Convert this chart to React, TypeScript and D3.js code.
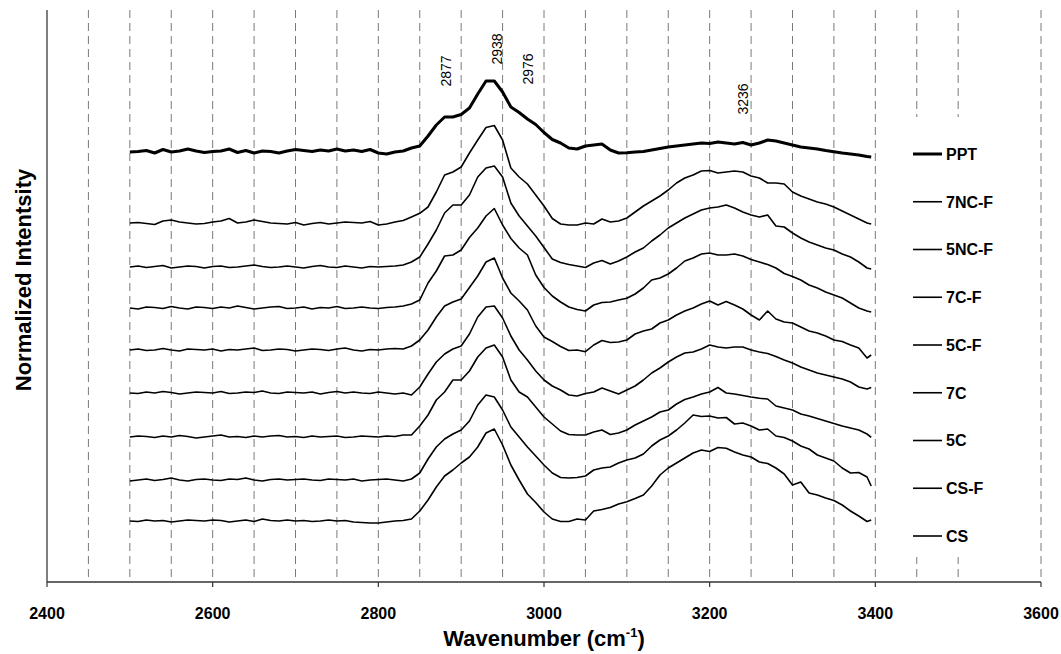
import React from "react";
import * as d3 from "d3";

// x-grid of sampled wavenumbers (cm-1), last sample at the spectrum end
const wavenumbers: number[] = [...d3.range(2500, 3391, 10), 3395];

const seriesNames = ["PPT", "7NC-F", "5NC-F", "7C-F", "5C-F", "7C", "5C", "CS-F", "CS"];
// vertical stacking offsets (a.u.)
const seriesOffsets = [430, 359, 315, 274, 232, 189, 145, 102, 61];

const ppt = [0,0.5,1.5,-1,2.5,0,1,3,1,-0.5,
 0.5,1,3,-0.5,1.5,-1,1,0.5,-1,1,
 2.5,1.5,0.5,2,1,3,1,2,0.5,2.5,
 -1,-2,0,1,4,6,16,27,35,35,
 37.5,44,58,71,71,60,45,39.5,33,27.5,
 19.5,12.5,9,4,3,6,7,8,2,-1,
 -0.7,0,0.5,2,3.5,5,6,7,8,9,
 8.5,10,9,8,9.5,7,9,12,11,9,
 7,5,4,3,1.5,0.3,-1,-2,-3,-4.5,-5];

const nc7f = [0,0.5,-0.5,-1.5,2,3,1,0,-1,-0.5,
 1,2,4.5,0,1,3,1.5,0,-0.5,-1,
 0.5,-2,-0.5,0.5,-1,0,1,0.5,0,1.5,
 -2,-1,1,2.5,6,9.7,16,31,48,51,
 56,70,83,95.5,97.5,83,55,46,39,28,
 17,4.5,-1,-2,-2,0,-1,4,1,2,
 5,11,17,22,27,33,40,45,48,52,
 52.5,50,51,52,51,47,45,40,40,39,
 31,27,24,21,19,16,12,8,4,0,-1];

const nc5f = [0,1,-0.5,0.5,1.5,-1,0,1,0.5,-1,
 0.5,1,-0.5,0,1,2,0.5,-0.5,0,1,
 0,-1,0.5,1.5,0,-0.5,1,0,-1,0.5,
 0,0.5,1,2,5,10,23,37,54,62,
 62,72,90,99,101,90,64,51,41,31,
 19.5,8,4.5,2.5,1,-0.5,4,6.5,3,6,
 10,15,19,26,32,39,44,49,53,57,
 59,60,62,59,55,52,50,52,41,40,
 34,29,25,22,19,17,13,10,5,-1,-2];

const c7f = [0,-1,1,0.5,-0.5,1.5,0,-1,1,0.5,
 -0.5,1,0,2,0.5,-1,0,1,1.5,-0.5,
 0,1,-1,0.5,0,1.5,-0.5,0,1,0,
 -0.5,0.5,1,2,4,8,25,37,52,53,
 58,70.5,80,92,99.5,83,69.5,60,53,33,
 20.5,12,6,1,-1.5,-3,3,5.5,6,8,
 9.7,14,20,28,30,34,40,47,50,54,
 55,53,53,54,52,48.5,46,43.5,40,34.5,
 31.5,28,23,20,16,13,10,5,0,-3,-4];

const c5f = [0,1,-0.5,0,1.5,0,-1,1,0.5,0,
 1,-1,0.5,0,1,2,-0.5,0,1,0.5,
 -1,0,1,0.5,-0.5,1,2,0,-1,0.5,
 0,1,1.5,1,4,10,20,33,44,48,
 51,62.5,74,88,92,72,57,49,40,24,
 13,8.5,3.5,-0.5,0,-1.7,5,9.5,7.5,8,
 10,16,19,21,27,30,35,39,42,46,
 49,45,48.5,45,41,35,30,39,31,28,
 27,23,19,17,14,10,8.5,5,2,-8,-5];

const c7 = [0,-0.5,1,0,1.5,0.5,-1,0,1,0.5,
 0,1.5,-0.5,0,1,0.5,2,0,-0.5,1,
 0.5,0,1,-1,0.5,1.5,0,1,0,-0.5,
 1,0,-1,0,-2,6,19,31,39,44,
 47,59,76,86,87,75,57,43,33,22,
 13,7,3,-2,-3,-0.5,1,5,2,-1,
 3,7,13,20,25,31,36,40,41,44,
 48,46,45,46,46,43,41,39.5,36.5,33,
 30,26,23,20,18,16,14,11,6,4,5.5];

const c5 = [0,1,0.5,-0.5,1,0,1.5,0.5,-1,0,
 1,2,0,0.5,-0.5,1,0,1,1.5,0,
 0.5,-0.5,1,0,0.5,1,-0.5,0,1,0.5,
 0,1,0.5,2,2,11,22,37,45,57,
 57,66,80,89,92,80,57,45,40,30,
 20,13,6,2.5,2,2,5,7,2.5,4,
 7,12,16,20,25,27,33,37.5,40,43,
 45,49.5,44,43,41.5,40,38.7,38,31,29,
 27,23,21,18.5,16,13.5,11,9,7,3,-0.3];

const csf = [-1,0,1,-0.5,0.5,2,0,-1,0.5,1,
 0,-0.5,1,0.5,2,0,-1,0.5,1,0,
 0.5,1,0,-0.5,1,0.5,0,1,-1,0,
 0.5,1,0,-1,1,7,21,33,41,46,
 50,59,75,85,83,70,53,43,33,24,
 15,7,2.5,2,2.5,4,10,12,13,17,
 20,22,26,34,40,44,50,57,65,63.5,
 64,62,62.5,56,57,54,50,51,44,42.5,
 39,34,31,25,22,19,12,7,7.5,3,-6];

const cs = [0,-0.5,1,0,0.5,-1,0,1,0.5,0,
 1,0.5,-1,0,1,-0.5,2,0.5,0,1,
 0,0.5,-0.5,0,1,0,0.5,-1,-1.5,-2,
 -2,-1,0,0.5,2,10,21,34,45,51,
 58,64,74,88,92,76,56,41,27,18.5,
 9,2,-0.5,-0.5,2,1,10,11.5,13.5,17,
 19.3,22.5,26,35,46,53,58,63,68,71,
 69.5,73.5,72.7,69,66,64,59,57.5,53,47,
 36,39,28,26,23,20.5,16,10,5,-0.5,1];

const seriesValues = [ppt, nc7f, nc5f, c7f, c5f, c7, c5, csf, cs];

const xTicks = [2400, 2600, 2800, 3000, 3200, 3400, 3600];
const gridLines = d3.range(2450, 3501, 50);
const peakLabels = [
  { w: 2877, label: "2877", yc: 71 },
  { w: 2938, label: "2938", yc: 49 },
  { w: 2976, label: "2976", yc: 69 },
  { w: 3236, label: "3236", yc: 99 },
];

const FONT = "'Liberation Sans', Arial, Helvetica, sans-serif";

export default function App() {
  const W = 1061, H = 654;
  const left = 47, right = 1041, top = 10, bottom = 582;
  const x = d3.scaleLinear().domain([2400, 3600]).range([left, right]);
  const y = d3.scaleLinear().domain([0, 572]).range([bottom, top]);

  const line = d3
    .line<number>()
    .x((_, i) => x(wavenumbers[i]))
    .y((v) => y(v));

  const legendX = 913;
  const legendTop = 154;
  const legendStep = 47.75;

  return (
    <svg
      width={W}
      height={H}
      style={{ position: "absolute", left: 0, top: 0, background: "#fff" }}
      fontFamily={FONT}
    >
      <rect x={0} y={0} width={W} height={H} fill="#fff" />
      {/* grid */}
      {gridLines.map((g) => (
        <line
          key={g}
          x1={x(g)}
          x2={x(g)}
          y1={top}
          y2={bottom}
          stroke="#7a7a7a"
          strokeWidth={1}
          strokeDasharray="8,5"
        />
      ))}
      <line x1={x(3600)} x2={x(3600)} y1={top} y2={bottom} stroke="#7a7a7a" strokeWidth={1} strokeDasharray="8,5" />

      {/* series */}
      {seriesValues.map((vals, si) => (
        <path
          key={seriesNames[si]}
          d={line(vals.map((v) => v + seriesOffsets[si])) || ""}
          fill="none"
          stroke="#000"
          strokeWidth={si === 0 ? 3 : 1.6}
          strokeLinejoin="round"
        />
      ))}

      {/* peak labels */}
      {peakLabels.map((p) => (
        <text
          key={p.label}
          transform={`translate(${x(p.w) + 9},${p.yc}) rotate(-90)`}
          textAnchor="middle"
          fontSize={14}
          fill="#000"
        >
          {p.label}
        </text>
      ))}

      {/* legend */}
      <rect x={903} y={117} width={98} height={440} fill="#fff" />
      {seriesNames.map((n, i) => {
        const ly = legendTop + i * legendStep;
        return (
          <g key={n}>
            <line x1={legendX} x2={legendX + 29} y1={ly} y2={ly} stroke="#000" strokeWidth={i === 0 ? 3 : 1.6} />
            <text x={legendX + 33} y={ly} dy="0.36em" fontSize={16} fontWeight="bold" fill="#000">
              {n}
            </text>
          </g>
        );
      })}

      {/* axes */}
      <line x1={left} x2={left} y1={top} y2={bottom} stroke="#555" strokeWidth={1.5} />
      <line x1={left} x2={right} y1={bottom} y2={bottom} stroke="#333" strokeWidth={1.5} />
      {xTicks.map((t) => (
        <g key={t}>
          <line x1={x(t)} x2={x(t)} y1={bottom} y2={bottom + 5} stroke="#333" strokeWidth={1.2} />
          <text x={x(t)} y={619} textAnchor="middle" fontSize={16} fontWeight="bold" fill="#000">
            {t}
          </text>
        </g>
      ))}

      <text x={544} y={646} textAnchor="middle" fontSize={22} fontWeight="bold" fill="#000">
        Wavenumber (cm
        <tspan fontSize={13} dy={-9}>-1</tspan>
        <tspan dy={9}>)</tspan>
      </text>
      <text
        transform={`translate(31,280) rotate(-90)`}
        textAnchor="middle"
        fontSize={22}
        fontWeight="bold"
        fill="#000"
      >
        Normalized Intentsity
      </text>
    </svg>
  );
}
